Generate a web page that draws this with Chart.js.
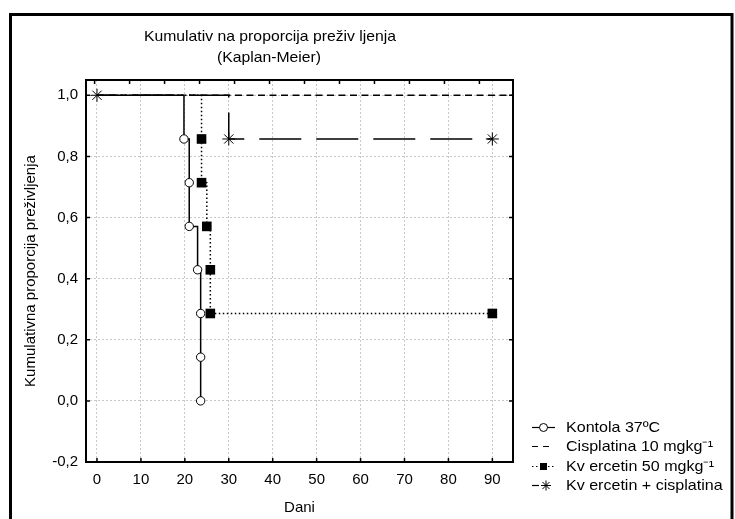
<!DOCTYPE html>
<html>
<head>
<meta charset="utf-8">
<script src="https://cdn.jsdelivr.net/npm/chart.js@4"></script>
<style>
  html, body { margin: 0; padding: 0; background: #fff; }
  #wrap { width: 735px; height: 519px; }
</style>
</head>
<body>
<div id="wrap"><canvas id="km" width="735" height="519"></canvas></div>
<script>
// series labels (as printed in the legend)
const seriesLabels = ['Kontola 37ºC', 'Cisplatina 10 mgkg⁻¹', 'Kv ercetin 50 mgkg⁻¹', 'Kv ercetin + cisplatina'];

// survival steps (day, cumulative proportion)
const kontrolaDays = [0, 19.8, 21, 21, 22.9, 23.6, 23.6, 23.6];
const kontrolaSurv = [1, 0.857, 0.714, 0.571, 0.429, 0.286, 0.143, 0];
const cisplatinaDays = [0, 94.7];
const cisplatinaSurv = [1, 1];
const kvercetinDays = [0, 23.8, 23.8, 25, 25.8, 25.8, 90];
const kvercetinSurv = [1, 0.857, 0.714, 0.571, 0.429, 0.286, 0.286];
const kombDays = [0, 30, 90];
const kombSurv = [1, 0.857, 0.857];

// axes
const xMin = -2.5, xMax = 94.7, xStep = 10;
const yMin = -0.2, yMax = 1.05, yStep = 0.2;

const chartTitle = ['Kumulativ na proporcija preživ ljenja', '(Kaplan-Meier)'];
const xTitle = 'Dani';
const yTitle = 'Kumulativna proporcija preživljenja';

const FONT = "'Liberation Sans', Arial, sans-serif";

function pts(xs, ys) {
    return xs.map((x, i) => ({ x: x, y: ys[i] }));
}

const datasets = [
    {
        label: seriesLabels[0],
        data: pts(kontrolaDays, kontrolaSurv),
        borderColor: '#000',
        borderWidth: 1.5,
        stepped: true,
        pointStyle: 'circle',
        pointRadius: kontrolaDays.map((d, i) => i === 0 ? 0 : 4.2),
        pointBackgroundColor: '#fff',
        pointBorderColor: '#000',
        pointBorderWidth: 1
    },
    {
        label: seriesLabels[1],
        data: pts(cisplatinaDays, cisplatinaSurv),
        borderColor: '#000',
        borderWidth: 1.5,
        borderDash: [7, 4.5],
        stepped: true,
        pointRadius: 0
    },
    {
        label: seriesLabels[2],
        data: pts(kvercetinDays, kvercetinSurv),
        borderColor: '#000',
        borderWidth: 1.5,
        borderDash: [1.5, 2.5],
        stepped: true,
        pointStyle: 'rect',
        pointRadius: kvercetinDays.map((d, i) => i === 0 ? 0 : 6.8),
        pointBackgroundColor: '#000',
        pointBorderColor: '#000',
        pointBorderWidth: 0
    },
    {
        label: seriesLabels[3],
        data: pts(kombDays, kombSurv),
        borderColor: '#000',
        borderWidth: 1.5,
        borderDash: [42, 15],
        borderDashOffset: 22,
        stepped: true,
        pointStyle: 'star',
        pointRadius: 6.5,
        pointBorderColor: '#000',
        pointBorderWidth: 1
    }
];

// text drawn slightly wider, like the original export
function wideText(ctx, text, x, y, sx) {
    ctx.save();
    ctx.translate(x, y);
    ctx.scale(sx, 1);
    ctx.fillText(text, 0, 0);
    ctx.restore();
}

// plot border, inward tick marks, titles and legend
const decor = {
    id: 'decor',
    afterDraw(chart) {
        const { ctx, chartArea: a, scales } = chart;
        ctx.save();
        ctx.strokeStyle = '#000';
        ctx.setLineDash([]);

        // outer frame
        ctx.lineWidth = 3;
        ctx.strokeRect(10.5, 14.5, 721.5, 600);

        // plot frame
        ctx.lineWidth = 2;
        ctx.strokeRect(a.left, a.top, a.right - a.left, a.bottom - a.top);

        // inward tick marks
        ctx.lineWidth = 1.5;
        ctx.beginPath();
        scales.x.ticks.forEach(t => {
            const px = scales.x.getPixelForValue(t.value);
            ctx.moveTo(px, a.bottom); ctx.lineTo(px, a.bottom - 4);
        });
        scales.x2.ticks.forEach(t => {
            const px = scales.x2.getPixelForValue(t.value);
            ctx.moveTo(px, a.top); ctx.lineTo(px, a.top + 4);
        });
        scales.y.ticks.forEach(t => {
            const py = scales.y.getPixelForValue(t.value);
            ctx.moveTo(a.left, py); ctx.lineTo(a.left + 4, py);
            ctx.moveTo(a.right, py); ctx.lineTo(a.right - 4, py);
        });
        ctx.stroke();

        // titles
        ctx.fillStyle = '#000';
        ctx.textAlign = 'center';
        ctx.textBaseline = 'middle';
        ctx.font = '15px ' + FONT;
        wideText(ctx, chartTitle[0], 270, 37, 1.05);
        wideText(ctx, chartTitle[1], 269, 58, 1.05);
        ctx.fillText(xTitle, (a.left + a.right) / 2, 508);
        ctx.save();
        ctx.translate(31, (a.top + a.bottom) / 2);
        ctx.rotate(-Math.PI / 2);
        ctx.fillText(yTitle, 0, 0);
        ctx.restore();

        // legend
        const x0 = 532, x1 = 555, xm = 543.5, tx = 566;
        chart.data.datasets.forEach((ds, i) => {
            const y = Math.round(427 + i * 19.3) + 0.5;
            ctx.lineWidth = 1.2;
            ctx.setLineDash(i === 1 ? [6, 5] : i === 2 ? [1.5, 2.5] : []);
            ctx.beginPath();
            if (i === 3) { ctx.moveTo(x0, y); ctx.lineTo(x0 + 7, y); }
            else { ctx.moveTo(x0, y); ctx.lineTo(i === 1 ? x1 - 6 : x1, y); }
            ctx.stroke();
            ctx.setLineDash([]);
            if (i === 0) {
                ctx.beginPath();
                ctx.arc(xm, y, 4, 0, Math.PI * 2);
                ctx.fillStyle = '#fff'; ctx.fill();
                ctx.lineWidth = 1; ctx.stroke();
            } else if (i === 2) {
                ctx.fillStyle = '#000';
                ctx.fillRect(xm - 3.5, y - 3.5, 7, 7);
            } else if (i === 3) {
                const sx = xm + 2.5, r = 5;
                ctx.lineWidth = 1;
                ctx.beginPath();
                ctx.moveTo(sx - r, y); ctx.lineTo(sx + r, y);
                ctx.moveTo(sx, y - r); ctx.lineTo(sx, y + r);
                const d = r * 0.7;
                ctx.moveTo(sx - d, y - d); ctx.lineTo(sx + d, y + d);
                ctx.moveTo(sx - d, y + d); ctx.lineTo(sx + d, y - d);
                ctx.stroke();
            }
            ctx.fillStyle = '#000';
            ctx.textAlign = 'left';
            ctx.font = '15px ' + FONT;
            wideText(ctx, ds.label, tx, y, 1.07);
        });
        ctx.restore();
    }
};

const gridStyle = { color: '#c8c8c8', lineWidth: 1, drawTicks: false };

new Chart(document.getElementById('km'), {
    type: 'line',
    data: { datasets: datasets },
    options: {
        responsive: false,
        animation: false,
        events: [],
        layout: { padding: { left: 0, top: 80, right: 735 - 513, bottom: 0 } },
        plugins: { legend: { display: false }, title: { display: false }, tooltip: { enabled: false } },
        scales: {
            x: {
                type: 'linear',
                min: xMin,
                max: xMax,
                grid: gridStyle,
                border: { display: false, dash: [2, 2] },
                ticks: {
                    stepSize: xStep,
                    includeBounds: false,
                    padding: 9,
                    color: '#000',
                    font: { family: FONT, size: 15 },
                    maxRotation: 0
                },
                afterFit: s => { s.height = 519 - 462; }
            },
            x2: {
                type: 'linear',
                position: 'top',
                min: -0.246,
                max: 11.96,
                grid: { display: false, drawTicks: false },
                border: { display: false },
                ticks: { display: false, stepSize: 1, includeBounds: false },
                afterFit: s => { s.height = 0; }
            },
            y: {
                type: 'linear',
                min: yMin,
                max: yMax,
                grid: gridStyle,
                border: { display: false, dash: [2, 2] },
                ticks: {
                    stepSize: yStep,
                    includeBounds: false,
                    padding: 8,
                    color: '#000',
                    font: { family: FONT, size: 15 },
                    callback: v => v.toFixed(1).replace('.', ',')
                },
                afterFit: s => { s.width = 86; }
            }
        }
    },
    plugins: [decor]
});
</script>
</body>
</html>
